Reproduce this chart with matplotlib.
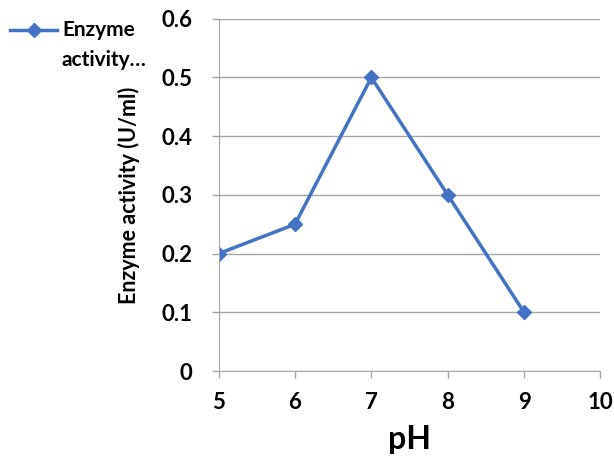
import matplotlib.pyplot as plt
from matplotlib.lines import Line2D

ph = [5, 6, 7, 8, 9]
activity = [0.2, 0.25, 0.5, 0.3, 0.1]

plt.rcParams['font.family'] = ['Lato', 'DejaVu Sans']
plt.rcParams['font.weight'] = 'bold'

W, H = 614, 457
fig = plt.figure(figsize=(W / 100, H / 100), dpi=100)
ax = fig.add_axes([0.356, 0.188, 0.622, 0.771])

ax.plot(ph, activity, color='#4472C4', lw=2.5, marker='D', ms=7)

ax.set_xlim(5, 10)
ax.set_ylim(0, 0.6)
ax.set_xticks(range(5, 11))
ax.set_yticks([0, 0.1, 0.2, 0.3, 0.4, 0.5, 0.6])
ax.set_yticklabels(['0', '0.1', '0.2', '0.3', '0.4', '0.5', '0.6'])
ax.grid(axis='y', color='#A6A6A6', lw=1)
ax.set_axisbelow(True)

for s in ['top', 'right']:
    ax.spines[s].set_visible(False)
for s in ['left', 'bottom']:
    ax.spines[s].set_color('#A6A6A6')
ax.tick_params(colors='#A6A6A6', labelcolor='black', labelsize=16, length=5, width=1)
for lbl in ax.get_xticklabels() + ax.get_yticklabels():
    lbl.set_fontweight('bold')
ax.tick_params(axis='x', pad=10)
ax.tick_params(axis='y', pad=14)

ax.set_xlabel('pH', fontsize=23, fontweight='bold', labelpad=9)
ax.set_ylabel('Enzyme activity (U/ml)', fontsize=15.5, fontweight='bold', labelpad=15)

# legend drawn by hand, Excel style (marker on first text line)
fig.add_artist(Line2D([10 / W, 57 / W], [1 - 30 / H, 1 - 30 / H], color='#4472C4',
                      lw=2.5, marker='D', ms=7, markevery=[], transform=fig.transFigure))
fig.add_artist(Line2D([33.5 / W], [1 - 30 / H], color='#4472C4', marker='D', ms=7,
                      ls='none', transform=fig.transFigure))
fig.text(62 / W, 1 - 30 / H, 'Enzyme', fontsize=15, fontweight='bold', va='center')
fig.text(62 / W, 1 - 60 / H, 'activity…', fontsize=15, fontweight='bold', va='center')

fig.savefig('out.png', dpi=100)
